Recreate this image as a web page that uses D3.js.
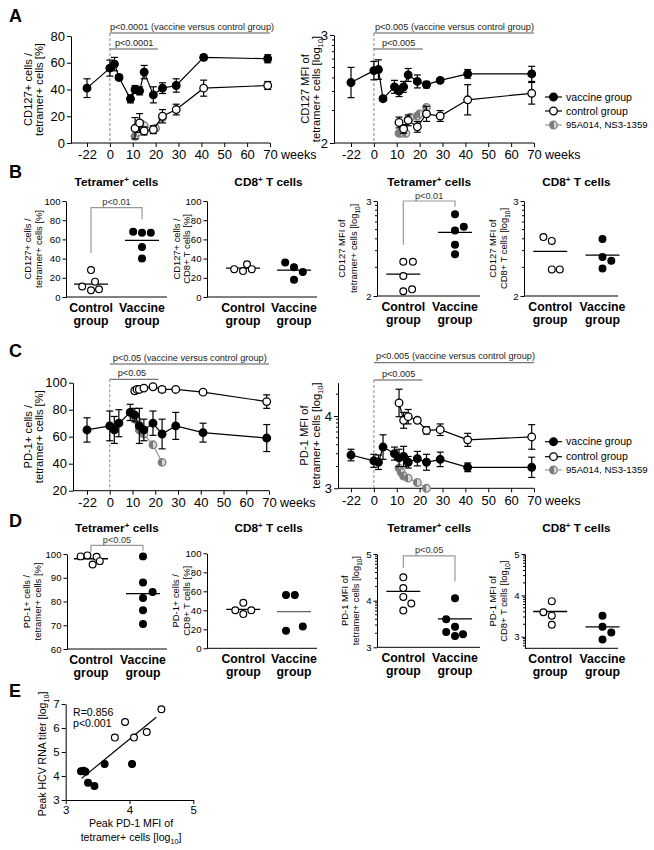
<!DOCTYPE html>
<html><head><meta charset="utf-8">
<script src="https://cdn.jsdelivr.net/npm/d3@7"></script>
<style>body{margin:0;background:#fff}</style>
</head><body><svg id="c" width="654" height="850"></svg>
<script>
// ---------------- DATA ----------------
const weekTicks = [-22, 0, 10, 20, 30, 40, 50, 60, 70];
const groups = ["Control group", "Vaccine group"];

// Panel A (CD127)
const weeksVacc = [-22, 0, 2, 4, 9, 11, 13, 15, 19, 23, 29, 41, 69];
const cd127PctVacc = [41, 56, 59, 49, 33, 40, 39, 53, 36, 41, 43, 64, 63];
const cd127PctVaccErr = [7, 6, 5, 2, 3, 3, 3, 5, 6, 4, 5, 2, 3];
const weeksCtrl = [11, 13, 15, 19, 23, 29, 41, 69];
const cd127PctCtrl = [11, 15, 9, 10, 20, 25, 41, 43];
const cd127PctCtrlErr = [8, 7, 3, 3, 5, 4, 6, 3];
const weeksGrayA1 = [11, 12, 13, 14, 15, 19, 20, 23];
const cd127PctGray = [5, 8, 12, 14, 13, 10, 11, 19];

const cd127MfiVacc = [2.56, 2.67, 2.68, 2.41, 2.52, 2.48, 2.52, 2.63, 2.57, 2.54, 2.58, 2.64, 2.64];
const cd127MfiVaccErr = [0.14, 0.085, 0.09, 0.02, 0.06, 0.05, 0.05, 0.06, 0.06, 0.03, 0.02, 0.04, 0.07];
const cd127MfiCtrl = [2.19, 2.13, 2.21, 2.15, 2.27, 2.25, 2.40, 2.46];
const cd127MfiCtrlErr = [0.05, 0.04, 0.05, 0.05, 0.07, 0.05, 0.14, 0.1];
const weeksGrayA2 = [11, 12, 13, 14, 15, 16, 19, 20, 23];
const cd127MfiGray = [2.09, 2.09, 2.13, 2.09, 2.22, 2.24, 2.25, 2.27, 2.33];

// Panel C (PD-1)
const pd1PctVacc = [65, 68, 65, 70, 78, 76, 68, 65, 70, 62, 68, 63, 59];
const pd1PctVaccErr = [9, 11, 10, 10, 6, 5, 13, 8, 9, 11, 10, 7, 10];
const weeksCtrlC1 = [11, 12, 13, 15, 19, 23, 29, 41, 69];
const pd1PctCtrl = [94, 95, 95, 96, 97, 95, 95, 93, 86];
const pd1PctCtrlErr = [2, 2, 1, 1, 1, 2, 1, 1, 5];
const weeksGrayC = [11, 12, 13, 15, 19, 23];
const pd1PctGray = [75, 72, 65, 62, 54, 41];

const pd1MfiVacc = [3.46, 3.38, 3.36, 3.57, 3.48, 3.42, 3.44, 3.36, 3.41, 3.36, 3.40, 3.29, 3.29];
const pd1MfiVaccErr = [0.08, 0.09, 0.1, 0.17, 0.09, 0.12, 0.14, 0.08, 0.1, 0.11, 0.1, 0.06, 0.14];
const pd1MfiCtrl = [4.18, 3.94, 3.99, 3.94, 3.80, 3.81, 3.67, 3.71];
const pd1MfiCtrlErr = [0.19, 0.11, 0.1, 0.03, 0.05, 0.08, 0.09, 0.17];
const pd1MfiGray = [3.28, 3.22, 3.17, 3.14, 3.08, 3.0];

// Panel B scatter
const cd127PctTetCtrl = [28, 16, 11, 7, 8];        const cd127PctTetCtrlJit = [0, 0.5, -1.1, 0, 1];
const cd127PctTetVacc = [68, 67, 67, 52, 40];      const cd127PctTetVaccJit = [-1.1, 0, 1.1, 0, 0];
const cd127PctTetMed = [13.5, 59];
const cd127PctCd8Ctrl = [29, 27, 34, 29];          const cd127PctCd8CtrlJit = [-1.1, 0, 0.5, 1.1];
const cd127PctCd8Vacc = [36, 31, 26, 18];          const cd127PctCd8VaccJit = [-1.1, 0, 1.1, 0];
const cd127PctCd8Med = [30, 28];
const cd127MfiTetCtrl = [2.36, 2.36, 2.21, 2.05, 2.07]; const cd127MfiTetCtrlJit = [0, 1.2, 0, 0, 1.1];
const cd127MfiTetVacc = [2.86, 2.73, 2.69, 2.54, 2.44]; const cd127MfiTetVaccJit = [0, 1.1, 0, 0, 0];
const cd127MfiTetMed = [2.23, 2.67];
const cd127MfiCd8Ctrl = [2.62, 2.58, 2.28, 2.28];  const cd127MfiCd8CtrlJit = [-0.85, 0.2, 0.2, 1.2];
const cd127MfiCd8Vacc = [2.60, 2.41, 2.37, 2.29];  const cd127MfiCd8VaccJit = [0, 0, 1.1, 0];
const cd127MfiCd8Med = [2.47, 2.43];

// Panel D scatter
const pd1PctTetCtrl = [99, 99.4, 98.8, 97, 95.6]; const pd1PctTetCtrlJit = [-1.3, -0.45, 0.7, 1.1, 0.2];
const pd1PctTetVacc = [99, 88, 84, 81.5, 76.3, 70.5]; const pd1PctTetVaccJit = [0, 0, 1.2, 0, 0, 0];
const pd1PctTetMed = [98, 83.3];
const pd1PctCd8Ctrl = [40, 48, 40, 36];           const pd1PctCd8CtrlJit = [-1, 0, 1, 0];
const pd1PctCd8Vacc = [56, 56, 18.6, 23];         const pd1PctCd8VaccJit = [-1, 0.1, -1, 1.1];
const pd1PctCd8Med = [41, 38.6];
const pd1MfiTetCtrl = [4.50, 4.27, 4.08, 3.79, 3.94]; const pd1MfiTetCtrlJit = [0, 0, 0, 0, 1];
const pd1MfiTetVacc = [4.05, 3.60, 3.44, 3.33, 3.24, 3.28]; const pd1MfiTetVaccJit = [0, -1.1, 0, -1.1, 0, 1];
const pd1MfiTetMed = [4.20, 3.61];
const pd1MfiCd8Ctrl = [3.86, 3.59, 3.51, 3.29];   const pd1MfiCd8CtrlJit = [0.2, -0.85, 0.2, 0.2];
const pd1MfiCd8Vacc = [3.51, 3.24, 3.10, 2.93];   const pd1MfiCd8VaccJit = [0, 0, 1.1, 0];
const pd1MfiCd8Med = [3.61, 3.24];

// Panel E correlation
const peakPd1Ctrl = [3.77, 3.93, 4.07, 4.27, 4.50];
const peakHcvCtrl = [5.6, 6.25, 5.6, 5.83, 6.78];
const peakPd1Vacc = [3.24, 3.28, 3.31, 3.35, 3.45, 3.61, 4.04];
const peakHcvVacc = [4.2, 4.22, 4.18, 3.72, 3.58, 4.5, 4.5];
const fitLineX = [3.25, 4.42];
const fitLineY = [3.9, 6.45];

const legendLabels = ["vaccine group", "control group", "95A014, NS3-1359"];

// ---------------- HELPERS ----------------
const FONT = "Arial, 'Liberation Sans', Helvetica, sans-serif";
const svg = d3.select("#c");
const defs = svg.append("defs");
const grad = defs.append("linearGradient").attr("id", "half");
[[0, "#7a7a7a"], [0.5, "#7a7a7a"], [0.5, "#d8d8d8"], [1, "#d8d8d8"]].forEach(s =>
  grad.append("stop").attr("offset", s[0]).attr("stop-color", s[1]));

const STY = {
  vacc: { fill: "#000", stroke: "#000", line: "#000" },
  ctrl: { fill: "#fff", stroke: "#000", line: "#000" },
  gray: { fill: "url(#half)", stroke: "#808080", line: "#9a9a9a" }
};
const fmt = d => String(d);

function txt(p, x, y, parts, o = {}) {
  const size = o.size || 11;
  const shift = o.center ? size * 0.35 : 0;
  const t = p.append("text").attr("font-size", size).attr("font-family", FONT)
    .attr("font-weight", o.weight || "normal").attr("fill", o.fill || "#000")
    .attr("text-anchor", o.anchor || "start");
  if (o.rotate) t.attr("transform", `translate(${x + shift},${y}) rotate(-90)`);
  else t.attr("transform", `translate(${x},${y + shift})`);
  if (typeof parts === "string") parts = [parts];
  let cur = 0;
  parts.forEach(pt => {
    const s = typeof pt === "string" ? { t: pt } : pt;
    const ts = t.append("tspan").text(s.t);
    const target = s.sup ? -size * 0.38 : s.sub ? size * 0.28 : 0;
    ts.attr("dy", target - cur); cur = target;
    if (s.sup || s.sub) ts.attr("font-size", size * 0.68);
  });
  return t;
}

function styleAxis(g, size) {
  g.attr("font-size", size).attr("font-family", FONT);
  g.selectAll("path,line").attr("stroke", "#000").attr("stroke-width", 1);
  g.selectAll("text").attr("fill", "#000");
}

function minorLogTicks(g, ys, ax, domain) {
  const lo = Math.floor(domain[0]), hi = Math.ceil(domain[1]);
  for (let d = lo; d < hi; d++) {
    for (let k = 2; k <= 9; k++) {
      const v = d + Math.log10(k);
      if (v > domain[0] && v < domain[1])
        g.append("line").attr("x1", ax - 2).attr("x2", ax).attr("y1", ys(v)).attr("y2", ys(v))
          .attr("stroke", "#000").attr("stroke-width", 1);
    }
  }
}

function yLabel(g, xs, yc, lines, size) {
  lines.forEach((parts, i) => txt(g, xs[i], yc, parts, { size, anchor: "middle", rotate: true, center: true }));
}

const LOG10 = [" [log", { t: "10", sub: true }, "]"];

// ---------------- TIME PANELS ----------------
function timePanel(cfg) {
  const g = svg.append("g");
  const xs = d3.scaleLinear().domain([-10, 70]).range([cfg.xA, cfg.xB]);
  const wpos = w => xs(w === -22 ? -10 : w);
  const ys = d3.scaleLinear().domain(cfg.yDomain).range([cfg.yBot, cfg.yTop]);

  const xa = g.append("g").attr("transform", `translate(0,${cfg.yBot})`)
    .call(d3.axisBottom(xs).tickValues(weekTicks.map(w => w === -22 ? -10 : w))
      .tickFormat((d, i) => weekTicks[i]).tickSize(4).tickPadding(3).tickSizeOuter(0));
  xa.select(".domain").remove();
  styleAxis(xa, 13);
  g.append("line").attr("x1", cfg.ax).attr("x2", cfg.xB).attr("y1", cfg.yBot).attr("y2", cfg.yBot)
    .attr("stroke", "#000");
  txt(g, cfg.xB + 11, cfg.yBot + 12, "weeks", { size: 12.5, center: true });

  const ya = g.append("g").attr("transform", `translate(${cfg.ax},0)`)
    .call(d3.axisLeft(ys).tickValues(cfg.yTicks).tickFormat(fmt).tickSize(4).tickPadding(2).tickSizeOuter(0));
  styleAxis(ya, 13);
  if (cfg.log) minorLogTicks(g, ys, cfg.ax, cfg.yDomain);

  yLabel(g, cfg.ylabX, (cfg.yTop + cfg.yBot) / 2, cfg.ylab, 11.2);

  // annotations
  const a = cfg.ann;
  g.append("line").attr("x1", xs(0)).attr("x2", xs(70)).attr("y1", a.longY).attr("y2", a.longY)
    .attr("stroke", "#555").attr("stroke-width", 1);
  txt(g, xs(0) + a.longDx, a.longY - 6.5, a.longText, { size: 9.2, center: true, fill: "#222" });
  g.append("line").attr("x1", xs(0)).attr("x2", xs(a.shortEnd)).attr("y1", a.shortY).attr("y2", a.shortY)
    .attr("stroke", "#555").attr("stroke-width", 1);
  txt(g, xs(0) + a.shortDx, a.shortY - 6.5, a.shortText, { size: 9.2, center: true, fill: "#222" });
  g.append("line").attr("x1", xs(0)).attr("x2", xs(0)).attr("y1", a.dashTop).attr("y2", cfg.yBot)
    .attr("stroke", "#888").attr("stroke-width", 1).attr("stroke-dasharray", "3,2");

  cfg.series.forEach(s => {
    const st = STY[s.type];
    const line = d3.line().x((d, i) => wpos(s.weeks[i])).y(d => ys(d));
    g.append("path").attr("d", line(s.values)).attr("fill", "none")
      .attr("stroke", st.line).attr("stroke-width", 1.2);
    if (s.err) {
      s.values.forEach((v, i) => {
        const x = wpos(s.weeks[i]), e = s.err[i];
        const y1 = ys(v - e), y2 = ys(v + e);
        g.append("line").attr("x1", x).attr("x2", x).attr("y1", y1).attr("y2", y2).attr("stroke", st.stroke).attr("stroke-width", 1.2);
        [y1, y2].forEach(yy => g.append("line").attr("x1", x - 3.5).attr("x2", x + 3.5).attr("y1", yy).attr("y2", yy)
          .attr("stroke", st.stroke).attr("stroke-width", 1.2));
      });
    }
    g.selectAll(null).data(s.values).enter().append("circle")
      .attr("cx", (d, i) => wpos(s.weeks[i])).attr("cy", d => ys(d)).attr("r", 3.8)
      .attr("fill", st.fill).attr("stroke", st.stroke).attr("stroke-width", 1.3);
  });

  if (cfg.legendY) {
    ["vacc", "ctrl", "gray"].forEach((k, i) => {
      const st = STY[k], y = cfg.legendY[i];
      g.append("line").attr("x1", 545).attr("x2", 562).attr("y1", y).attr("y2", y).attr("stroke", st.line).attr("stroke-width", 1.2);
      g.append("circle").attr("cx", 553.5).attr("cy", y).attr("r", 3.8).attr("fill", st.fill).attr("stroke", st.stroke).attr("stroke-width", 1.3);
      txt(g, 566, y, legendLabels[i], { size: i === 2 ? 9.6 : 10.6, center: true });
    });
  }
}

// ---------------- SCATTER PANELS ----------------
function scatterPanel(cfg) {
  const g = svg.append("g");
  const ys = d3.scaleLinear().domain(cfg.domain).range([cfg.yBot, cfg.yTop]);
  const xs = d3.scalePoint().domain(groups).range(cfg.cats);
  const ya = g.append("g").attr("transform", `translate(${cfg.ax},0)`)
    .call(d3.axisLeft(ys).tickValues(cfg.ticks).tickFormat(fmt).tickSize(3.5).tickPadding(2).tickSizeOuter(0));
  styleAxis(ya, 9.6);
  if (cfg.log) minorLogTicks(g, ys, cfg.ax, cfg.domain);
  g.append("line").attr("x1", cfg.ax).attr("x2", cfg.xEnd).attr("y1", cfg.yBot).attr("y2", cfg.yBot).attr("stroke", "#000");

  groups.forEach(gr => {
    const [w1, w2] = gr.split(" ");
    txt(g, xs(gr), cfg.yBot + 15, w1, { size: 12.3, weight: "bold", anchor: "middle" });
    txt(g, xs(gr), cfg.yBot + 28, w2, { size: 12.3, weight: "bold", anchor: "middle" });
  });
  txt(g, (cfg.cats[0] + cfg.cats[1]) / 2, cfg.titleY, cfg.title, { size: 11.8, weight: "bold", anchor: "middle" });
  yLabel(g, cfg.ylabX, (cfg.yTop + cfg.yBot) / 2, cfg.ylab, 9.4);

  if (cfg.bracket) {
    const b = cfg.bracket;
    const xl = xs(groups[0]), xr = xs(groups[1]);
    g.append("path").attr("d", `M${xl},${ys(b.left)}V${ys(b.top)}H${xr}V${ys(b.right)}`)
      .attr("fill", "none").attr("stroke", "#999").attr("stroke-width", 1.2);
    txt(g, (xl + xr) / 2, ys(b.top) - 2.5, b.text, { size: 9.2, anchor: "middle", fill: "#333" });
  }

  const sets = [
    { gr: groups[0], vals: cfg.ctrl, jit: cfg.ctrlJit, st: STY.ctrl, med: cfg.med[0], medColor: "#000" },
    { gr: groups[1], vals: cfg.vacc, jit: cfg.vaccJit, st: STY.vacc, med: cfg.med[1], medColor: cfg.vaccMedColor || "#000" }
  ];
  sets.forEach(s => {
    const cx = xs(s.gr);
    g.append("line").attr("x1", cx - 17).attr("x2", cx + 17).attr("y1", ys(s.med)).attr("y2", ys(s.med))
      .attr("stroke", s.medColor).attr("stroke-width", 1.3);
    g.selectAll(null).data(s.vals).enter().append("circle")
      .attr("cx", (d, i) => cx + s.jit[i] * 8).attr("cy", d => ys(d)).attr("r", 3.4)
      .attr("fill", s.st.fill).attr("stroke", s.st.stroke).attr("stroke-width", 1.2);
  });
}

// ---------------- PANEL LETTERS ----------------
[["A", 22], ["B", 178], ["C", 357], ["D", 527], ["E", 697]].forEach(([l, y]) =>
  txt(svg, 9, y, l, { size: 18, weight: "bold" }));

// ---------------- BUILD ----------------
timePanel({
  ax: 71, xA: 87, xB: 270, yTop: 36, yBot: 143, yDomain: [0, 80], yTicks: [0, 20, 40, 60, 80],
  ylabX: [28, 39], ylab: [["CD127+ cells /"], ["tetramer+ cells [%]"]],
  ann: { longY: 33, longText: "p<0.0001 (vaccine versus control group)", longDx: 0,
         shortY: 49, shortEnd: 21, shortText: "p<0.0001", shortDx: 5, dashTop: 33 },
  series: [
    { type: "gray", weeks: weeksGrayA1, values: cd127PctGray },
    { type: "ctrl", weeks: weeksCtrl, values: cd127PctCtrl, err: cd127PctCtrlErr },
    { type: "vacc", weeks: weeksVacc, values: cd127PctVacc, err: cd127PctVaccErr }
  ]
});
timePanel({
  ax: 334, xA: 351, xB: 534, yTop: 35, yBot: 143, yDomain: [2, 3], yTicks: [2, 3], log: true,
  ylabX: [305, 316], ylab: [["CD127 MFI of"], ["tetramer+ cells", ...LOG10]],
  ann: { longY: 33, longText: "p<0.005 (vaccine versus control group)", longDx: 1,
         shortY: 49, shortEnd: 21.4, shortText: "p<0.005", shortDx: 8, dashTop: 33 },
  series: [
    { type: "gray", weeks: weeksGrayA2, values: cd127MfiGray },
    { type: "ctrl", weeks: weeksCtrl, values: cd127MfiCtrl, err: cd127MfiCtrlErr },
    { type: "vacc", weeks: weeksVacc, values: cd127MfiVacc, err: cd127MfiVaccErr }
  ],
  legendY: [97, 111, 125]
});

scatterPanel({
  ax: 66, xEnd: 167, cats: [91, 142], yTop: 201, yBot: 297, domain: [0, 100], ticks: [0, 20, 40, 60, 80, 100],
  title: ["Tetramer", { t: "+", sup: true }, " cells"], titleY: 186,
  ylabX: [28, 38.5], ylab: [["CD127+ cells /"], ["tetramer+ cells [%]"]],
  ctrl: cd127PctTetCtrl, ctrlJit: cd127PctTetCtrlJit, vacc: cd127PctTetVacc, vaccJit: cd127PctTetVaccJit,
  med: cd127PctTetMed, bracket: { left: 46, right: 81, top: 93, text: "p<0.01" }
});
scatterPanel({
  ax: 207, xEnd: 317, cats: [243, 294], yTop: 201, yBot: 297, domain: [0, 100], ticks: [0, 20, 40, 60, 80, 100],
  title: ["CD8", { t: "+", sup: true }, " T cells"], titleY: 186,
  ylabX: [176.5, 187], ylab: [["CD127+ cells /"], ["CD8+ T cells [%]"]],
  ctrl: cd127PctCd8Ctrl, ctrlJit: cd127PctCd8CtrlJit, vacc: cd127PctCd8Vacc, vaccJit: cd127PctCd8VaccJit,
  med: cd127PctCd8Med
});
scatterPanel({
  ax: 377, xEnd: 480, cats: [403.3, 455], yTop: 201, yBot: 296, domain: [2, 3], ticks: [2, 3], log: true,
  title: ["Tetramer", { t: "+", sup: true }, " cells"], titleY: 186,
  ylabX: [342, 354], ylab: [["CD127 MFI of"], ["tetramer+ cells", ...LOG10]],
  ctrl: cd127MfiTetCtrl, ctrlJit: cd127MfiTetCtrlJit, vacc: cd127MfiTetVacc, vaccJit: cd127MfiTetVaccJit,
  med: cd127MfiTetMed, bracket: { left: 2.54, right: 2.94, top: 3.0, text: "p<0.01" }
});
scatterPanel({
  ax: 524, xEnd: 618, cats: [550.2, 602.5], yTop: 201, yBot: 296, domain: [2, 3], ticks: [2, 3], log: true,
  title: ["CD8", { t: "+", sup: true }, " T cells"], titleY: 186,
  ylabX: [493, 504], ylab: [["CD127 MFI of"], ["CD8+ T cells", ...LOG10]],
  ctrl: cd127MfiCd8Ctrl, ctrlJit: cd127MfiCd8CtrlJit, vacc: cd127MfiCd8Vacc, vaccJit: cd127MfiCd8VaccJit,
  med: cd127MfiCd8Med
});

timePanel({
  ax: 73, xA: 87, xB: 269, yTop: 382.7, yBot: 490.7, yDomain: [20, 100], yTicks: [20, 40, 60, 80, 100],
  ylabX: [28, 39], ylab: [["PD-1+ cells /"], ["tetramer+ cells [%]"]],
  ann: { longY: 364, longText: "p<0.05 (vaccine versus control group)", longDx: 3,
         shortY: 379.3, shortEnd: 21.4, shortText: "p<0.05", shortDx: 8, dashTop: 379.3 },
  series: [
    { type: "gray", weeks: weeksGrayC, values: pd1PctGray },
    { type: "ctrl", weeks: weeksCtrlC1, values: pd1PctCtrl, err: pd1PctCtrlErr },
    { type: "vacc", weeks: weeksVacc, values: pd1PctVacc, err: pd1PctVaccErr }
  ]
});
timePanel({
  ax: 338, xA: 351, xB: 534, yTop: 382.7, yBot: 488.3, yDomain: [3, 4.46], yTicks: [3, 4], log: true,
  ylabX: [304, 316], ylab: [["PD-1 MFI of"], ["tetramer+ cells", ...LOG10]],
  ann: { longY: 362.7, longText: "p<0.005 (vaccine versus control group)", longDx: 2,
         shortY: 380, shortEnd: 21.2, shortText: "p<0.005", shortDx: 8, dashTop: 380 },
  series: [
    { type: "gray", weeks: weeksGrayC, values: pd1MfiGray },
    { type: "ctrl", weeks: weeksCtrl, values: pd1MfiCtrl, err: pd1MfiCtrlErr },
    { type: "vacc", weeks: weeksVacc, values: pd1MfiVacc, err: pd1MfiVaccErr }
  ],
  legendY: [441.7, 456.7, 470]
});

scatterPanel({
  ax: 67, xEnd: 167, cats: [91, 143], yTop: 554, yBot: 649, domain: [60, 100], ticks: [60, 70, 80, 90, 100],
  title: ["Tetramer", { t: "+", sup: true }, " cells"], titleY: 532,
  ylabX: [27, 37.5], ylab: [["PD-1+ cells /"], ["tetramer+ cells [%]"]],
  ctrl: pd1PctTetCtrl, ctrlJit: pd1PctTetCtrlJit, vacc: pd1PctTetVacc, vaccJit: pd1PctTetVaccJit,
  med: pd1PctTetMed, bracket: { left: 101, right: 101.4, top: 103.6, text: "p<0.05" }
});
scatterPanel({
  ax: 207, xEnd: 317, cats: [243.3, 294], yTop: 553.3, yBot: 648.3, domain: [0, 100], ticks: [0, 20, 40, 60, 80, 100],
  title: ["CD8", { t: "+", sup: true }, " T cells"], titleY: 532,
  ylabX: [176, 186.5], ylab: [["PD-1+ cells /"], ["CD8+ T cells [%]"]],
  ctrl: pd1PctCd8Ctrl, ctrlJit: pd1PctCd8CtrlJit, vacc: pd1PctCd8Vacc, vaccJit: pd1PctCd8VaccJit,
  med: pd1PctCd8Med, vaccMedColor: "#666"
});
scatterPanel({
  ax: 377, xEnd: 480, cats: [403.3, 455], yTop: 554, yBot: 647.3, domain: [3, 5], ticks: [3, 4, 5], log: true,
  title: ["Tetramer", { t: "+", sup: true }, " cells"], titleY: 532,
  ylabX: [345, 356], ylab: [["PD-1 MFI of"], ["tetramer+ cells", ...LOG10]],
  ctrl: pd1MfiTetCtrl, ctrlJit: pd1MfiTetCtrlJit, vacc: pd1MfiTetVacc, vaccJit: pd1MfiTetVaccJit,
  med: pd1MfiTetMed, bracket: { left: 4.70, right: 4.41, top: 4.96, text: "p<0.05" }
});
scatterPanel({
  ax: 525, xEnd: 618, cats: [550.2, 602.5], yTop: 554, yBot: 648.3, domain: [2.72, 5], ticks: [3, 4, 5], log: true,
  title: ["CD8", { t: "+", sup: true }, " T cells"], titleY: 532,
  ylabX: [493, 504], ylab: [["PD-1 MFI of"], ["CD8+ T cells", ...LOG10]],
  ctrl: pd1MfiCd8Ctrl, ctrlJit: pd1MfiCd8CtrlJit, vacc: pd1MfiCd8Vacc, vaccJit: pd1MfiCd8VaccJit,
  med: pd1MfiCd8Med
});

// ---------------- PANEL E ----------------
(function () {
  const g = svg.append("g");
  const xs = d3.scaleLinear().domain([3, 5]).range([65.7, 193.3]);
  const ys = d3.scaleLinear().domain([3, 7]).range([800, 704]);
  const xa = g.append("g").attr("transform", "translate(0,800)")
    .call(d3.axisBottom(xs).tickValues([3, 4, 5]).tickFormat(fmt).tickSize(4).tickPadding(2).tickSizeOuter(0));
  styleAxis(xa, 11.5);
  const ya = g.append("g").attr("transform", "translate(65.7,0)")
    .call(d3.axisLeft(ys).tickValues([3, 4, 5, 6, 7]).tickFormat(fmt).tickSize(4).tickPadding(2).tickSizeOuter(0));
  styleAxis(ya, 11.5);
  yLabel(g, [42], 754, [["Peak HCV RNA titer", ...LOG10]], 10.5);
  txt(g, 131, 823, "Peak PD-1 MFI of", { size: 10.6, anchor: "middle", center: true });
  txt(g, 131, 837, ["tetramer+ cells", ...LOG10], { size: 10.6, anchor: "middle", center: true });
  txt(g, 73, 712.7, "R=0.856", { size: 10.6, center: true });
  txt(g, 73, 723.5, "p<0.001", { size: 10.6, center: true });
  g.append("line").attr("x1", xs(fitLineX[0])).attr("x2", xs(fitLineX[1]))
    .attr("y1", ys(fitLineY[0])).attr("y2", ys(fitLineY[1])).attr("stroke", "#000").attr("stroke-width", 1.2);
  g.selectAll(null).data(peakPd1Vacc).enter().append("circle")
    .attr("cx", d => xs(d)).attr("cy", (d, i) => ys(peakHcvVacc[i])).attr("r", 3.4)
    .attr("fill", "#000").attr("stroke", "#000").attr("stroke-width", 1.2);
  g.selectAll(null).data(peakPd1Ctrl).enter().append("circle")
    .attr("cx", d => xs(d)).attr("cy", (d, i) => ys(peakHcvCtrl[i])).attr("r", 3.4)
    .attr("fill", "#fff").attr("stroke", "#000").attr("stroke-width", 1.2);
})();
</script>
</body></html>
